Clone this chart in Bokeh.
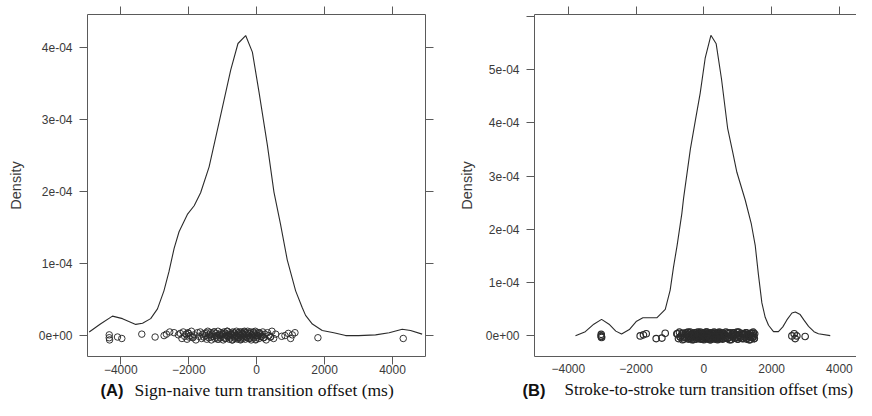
from bokeh.plotting import figure
from bokeh.models import (LinearAxis, FixedTicker, CustomJSTickFormatter, Range1d,
                          ColumnDataSource)
from bokeh.layouts import row, column
from bokeh.core.properties import value
from bokeh.embed import file_html
from bokeh.resources import INLINE

UNIT = 1e-4  # densities below are given in units of 1e-4

# ---------------- data ----------------
x_ticks = [-4000, -2000, 0, 2000, 4000]
a_y_ticks = [0, 1, 2, 3, 4]
b_y_ticks = [0, 1, 2, 3, 4, 5]
b_y_minor = [6]

a_curve_x = [-4930, -4600, -4245, -3950, -3560, -3360, -3120, -2920, -2730, -2580,
             -2430, -2285, -2040, -1840, -1650, -1400, -1110, -765, -550, -324,
             -126, 68, 315, 509, 700, 900, 1147, 1340, 1440, 1640,
             1930, 2270, 2620, 3000, 3500, 3900, 4285, 4530, 4870]
a_curve_y = [0.05, 0.16, 0.27, 0.235, 0.155, 0.17, 0.235, 0.37, 0.62, 0.89,
             1.21, 1.44, 1.68, 1.80, 1.98, 2.34, 2.95, 3.68, 4.05, 4.16,
             3.93, 3.38, 2.64, 1.99, 1.55, 1.05, 0.62, 0.39, 0.28, 0.16,
             0.07, 0.04, 0.0, 0.0, 0.01, 0.04, 0.087, 0.07, 0.02]

b_curve_x = [-3790, -3500, -3250, -3020, -2800, -2600, -2430, -2200, -2000, -1800,
             -1600, -1390, -1140, -995, -897, -790, -650, -600, -400, -250,
             -110, 38, 207, 363, 520, 700, 860, 974, 1220, 1400,
             1515, 1610, 1712, 1810, 1908, 2055, 2200, 2330, 2450, 2600,
             2700, 2843, 2950, 3090, 3250, 3380, 3730]
b_curve_y = [0.005, 0.08, 0.22, 0.31, 0.22, 0.09, 0.035, 0.12, 0.27, 0.34,
             0.34, 0.34, 0.50, 0.86, 1.29, 1.70, 2.30, 2.58, 3.50, 4.05,
             4.55, 5.21, 5.64, 5.48, 4.82, 3.90, 3.42, 3.07, 2.55, 2.10,
             1.70, 1.15, 0.62, 0.35, 0.20, 0.08, 0.08, 0.17, 0.30, 0.43,
             0.45, 0.40, 0.30, 0.18, 0.08, 0.04, 0.005]

# jittered observations (x in ms, vertical jitter in 1e-4 units)
a_obs_x = [-4340, -4340, -4330, -4097, -3970, -3382, -2990, -2726, -2657, -2559,
           -2432, -2304,
           -2250, -2200, -2160, -2120, -2080, -2050, -2020, -1990, -1960, -1920,
           -1880, -1840, -1790, -1740, -1700, -1660, -1620, -1590, -1560, -1530,
           -1500, -1470, -1440, -1410, -1385, -1360, -1335, -1310, -1285, -1260,
           -1235, -1210, -1190, -1165, -1140, -1120, -1095, -1075, -1050, -1030,
           -1010, -985, -965, -945, -925, -905, -885, -865, -845, -825,
           -805, -785, -765, -745, -725, -705, -690, -670, -650, -635,
           -615, -595, -580, -560, -545, -525, -510, -490, -475, -455,
           -440, -420, -405, -385, -370, -350, -335, -315, -300, -280,
           -265, -245, -230, -210, -195, -175, -160, -140, -120, -100,
           -80, -60, -40, -20, 0, 20, 45, 70, 95, 120,
           150, 180, 210, 245, 280, 320, 360, 400, 450, 500,
           -1480, -1350, -1250, -1150, -1060, -990, -930, -870, -810, -760,
           -710, -660, -600, -555, -500, -460, -410, -360, -310, -255,
           -200, -150, -90, -30, 30, 80, 130, 190, -2010, -1900,
           559, 412, 735, 833, 931, 1000, 1049, 1127, 1803, 4315]
a_obs_y = [0.01, -0.03, -0.06, -0.02, -0.04, 0.02, -0.02, 0.00, 0.02, 0.05,
           0.04, 0.01,
           0.03, -0.04, 0.05, -0.01, 0.02, -0.05, 0.04, -0.02, 0.00, 0.06,
           -0.03, 0.01, -0.06, 0.04, -0.01, 0.05, -0.04, 0.02, -0.02, 0.03,
           0.00, -0.05, 0.06, -0.03, 0.01, 0.04, -0.06, 0.02, -0.01, 0.05,
           -0.04, 0.03, -0.02, 0.00, 0.06, -0.05, 0.01, -0.03, 0.04, -0.01,
           0.02, -0.06, 0.05, -0.02, 0.03, -0.04, 0.00, 0.06, -0.01, 0.01,
           -0.05, 0.04, -0.03, 0.02, -0.06, 0.05, 0.00, -0.02, 0.03, -0.04,
           0.01, 0.06, -0.01, -0.05, 0.04, -0.03, 0.02, 0.00, -0.06, 0.05,
           -0.02, 0.03, -0.04, 0.01, 0.05, -0.01, -0.05, 0.04, 0.02, -0.03,
           0.06, 0.00, -0.04, 0.03, -0.02, 0.05, -0.06, 0.01, -0.01, 0.04,
           -0.03, 0.02, 0.06, -0.05, 0.00, -0.02, 0.04, -0.04, 0.03, 0.01,
           -0.01, 0.05, -0.03, 0.02, -0.06, 0.04, 0.00, -0.02, 0.06, -0.04,
           0.04, -0.02, 0.05, -0.05, 0.01, 0.03, -0.04, 0.06, -0.01, 0.02,
           -0.06, 0.04, 0.00, -0.03, 0.05, -0.05, 0.02, 0.06, -0.02, 0.03,
           -0.04, 0.01, 0.05, -0.06, 0.00, 0.04, -0.01, -0.03, 0.03, -0.02,
           0.02, -0.02, -0.01, 0.00, 0.03, -0.04, 0.01, 0.04, -0.03, -0.04]

b_obs_x = [-3030, -3030, -3020, -3025, -1880, -1783, -1703, -1408, -1240, -1142,
           -797,
           -780, -750, -720, -690, -660, -630, -600, -575, -550, -525,
           -500, -480, -460, -440, -420, -400, -380, -360, -345, -330,
           -315, -300, -285, -270, -255, -240, -225, -210, -195, -180,
           -165, -150, -135, -120, -105, -90, -75, -60, -45, -30,
           -15, 0, 15, 30, 45, 60, 75, 90, 105, 120,
           135, 150, 165, 180, 195, 210, 225, 240, 255, 270,
           285, 300, 315, 330, 345, 360, 375, 390, 405, 420,
           440, 460, 480, 500, 520, 540, 560, 580, 600, 625,
           650, 675, 700, 725, 750, 775, 800, 830, 860, 890,
           920, 950, 980, 1010, 1040, 1070, 1100, 1130, 1160, 1190,
           1220, 1250, 1280, 1310, 1340, 1370, 1400, 1430, 1460, 1490,
           1320, 1380, 1450, 1260, 1150, 1000, 870, 700, 560, 430,
           -700, -640, -590, -540, -470, -430, -390, -350, -310, -275,
           -240, -200, -160, -130, -95, -55, -25, 5, 35, 65,
           95, 125, 155, 185, 215, 245, 275, 305, 335, 365,
           395, 425, 455, 490, 530, 570, 610, 660, 710, 760,
           810, 850, 900, 940, 990, 1030, 1080, 1120, 1170, 1210,
           1240, 1290, 1330, 1360, 1410, 1440, 1470, 1500, 1480, 1350,
           2598, 2666, 2695, 2745, 2990]
b_obs_y = [0.03, 0.00, -0.03, -0.01, 0.00, 0.02, 0.04, -0.05, -0.04, 0.05,
           0.04,
           0.04, -0.05, 0.07, -0.02, 0.01, -0.07, 0.05, -0.03, 0.00, 0.06,
           -0.04, 0.02, -0.06, 0.05, -0.01, 0.07, -0.05, 0.03, -0.02, 0.04,
           0.00, -0.07, 0.06, -0.03, 0.01, 0.05, -0.06, 0.02, -0.01, 0.07,
           -0.05, 0.04, -0.02, 0.00, 0.07, -0.06, 0.01, -0.04, 0.05, -0.01,
           0.03, -0.07, 0.06, -0.02, 0.04, -0.05, 0.00, 0.07, -0.01, 0.02,
           -0.06, 0.05, -0.04, 0.03, -0.07, 0.06, 0.00, -0.03, 0.04, -0.05,
           0.01, 0.07, -0.02, -0.06, 0.05, -0.04, 0.03, 0.00, -0.07, 0.06,
           -0.03, 0.04, -0.05, 0.02, 0.06, -0.01, -0.06, 0.05, 0.03, -0.04,
           0.07, 0.00, -0.05, 0.04, -0.03, 0.06, -0.07, 0.02, -0.01, 0.05,
           -0.04, 0.03, 0.07, -0.06, 0.01, -0.03, 0.05, -0.05, 0.04, 0.02,
           -0.02, 0.06, -0.04, 0.03, -0.07, 0.05, 0.00, -0.03, 0.07, -0.05,
           0.02, -0.03, 0.05, -0.06, 0.04, -0.02, 0.06, -0.04, 0.01, 0.03,
           -0.02, 0.05, -0.06, 0.03, 0.07, -0.04, 0.01, -0.07, 0.04, 0.00,
           0.06, -0.03, 0.02, -0.05, 0.05, 0.03, -0.06, 0.01, -0.02, 0.07,
           -0.05, 0.00, 0.04, -0.07, 0.02, 0.06, -0.01, -0.04, 0.05, -0.03,
           0.03, -0.06, 0.07, -0.01, -0.05, 0.04, 0.01, -0.03, 0.06, -0.07,
           0.00, 0.05, -0.04, 0.02, -0.06, 0.07, -0.02, 0.03, -0.05, 0.04,
           0.06, -0.01, 0.02, -0.07, 0.05, -0.03, 0.00, 0.04, -0.05, 0.01,
           0.00, 0.04, -0.05, 0.00, -0.01]

a_caption_tag = "(A)"
a_caption = "Sign-naive turn transition offset (ms)"
b_caption_tag = "(B)"
b_caption = "Stroke-to-stroke turn transition offset (ms)"
y_label = "Density"

# ---------------- styling ----------------
FRAME = "#5a5a5a"
INK = "#2b2b2b"
TICKTXT = "#3a3a3a"

yfmt = CustomJSTickFormatter(code="""
const s = tick.toExponential(0);
const parts = s.split("e");
const sign = parts[1][0];
let d = parts[1].slice(1);
if (d.length < 2) { d = "0" + d; }
return parts[0] + "e" + sign + d;
""")


def style_axis(ax, show_labels, tick_out, standoff):
    ax.axis_line_color = FRAME
    ax.axis_line_width = 1
    ax.major_tick_line_color = FRAME
    ax.major_tick_out = tick_out
    ax.major_tick_in = 0
    ax.minor_tick_line_color = None
    ax.major_label_text_font = "Liberation Sans"
    ax.major_label_text_color = TICKTXT
    if show_labels:
        ax.major_label_text_font_size = "12px"
        ax.major_label_standoff = standoff
    else:
        ax.formatter = CustomJSTickFormatter(code="return '';")
        ax.major_label_text_font_size = "0px"
        ax.major_label_standoff = 0


def make_panel(width, height, mb_left, mb_right, mb_top, mb_bottom, xr, yr, yt, ymin,
               cx, cy, ox, oy, right_axis, bottom_tick_out, bottom_standoff, ylab_standoff,
               pt_width):
    p = figure(width=width, height=height, output_backend="svg", toolbar_location=None,
               x_range=Range1d(*xr), y_range=Range1d(*yr),
               min_border_left=mb_left, min_border_right=mb_right,
               min_border_top=mb_top, min_border_bottom=mb_bottom)
    p.outline_line_color = None
    p.grid.visible = False
    p.background_fill_color = "white"
    p.border_fill_color = "white"

    xb = p.xaxis[0]
    xb.ticker = FixedTicker(ticks=x_ticks)
    style_axis(xb, True, bottom_tick_out, bottom_standoff)

    yl = p.yaxis[0]
    yl.ticker = FixedTicker(ticks=[v * UNIT for v in yt], minor_ticks=[v * UNIT for v in ymin])
    yl.formatter = yfmt
    style_axis(yl, True, 8, 7)
    yl.axis_label = y_label
    yl.axis_label_text_font = "Liberation Sans"
    yl.axis_label_text_font_style = "normal"
    yl.axis_label_text_font_size = "14.5px"
    yl.axis_label_text_color = TICKTXT
    yl.axis_label_standoff = ylab_standoff
    if ymin:
        yl.minor_tick_line_color = FRAME
        yl.minor_tick_out = 8
        yl.minor_tick_in = 0

    top = LinearAxis(ticker=FixedTicker(ticks=x_ticks))
    style_axis(top, False, 8, 0)
    p.add_layout(top, "above")

    if right_axis:
        ra = LinearAxis(ticker=FixedTicker(ticks=[v * UNIT for v in yt]))
        style_axis(ra, False, 8, 0)
        p.add_layout(ra, "right")

    p.line(x=cx, y=[v * UNIT for v in cy], line_color=INK, line_width=1.1)
    src = ColumnDataSource(dict(x=ox, y=[v * UNIT for v in oy]))
    p.scatter(x="x", y="y", source=src, marker="circle", size=6.5,
              fill_color=None, line_color=INK, line_width=pt_width)
    return p


def make_caption(width, height, tag, text, tag_x, text_x, mid_y, size):
    c = figure(width=width, height=height, output_backend="svg", toolbar_location=None,
               x_range=Range1d(0, width), y_range=Range1d(0, height),
               x_axis_type=None, y_axis_type=None, min_border=0)
    c.outline_line_color = None
    c.grid.visible = False
    c.border_fill_color = "white"
    c.text(x=[tag_x], y=[mid_y], text=[tag], text_font=value("Liberation Sans"),
           text_font_style="bold", text_font_size="16.5px", text_color="#111111",
           text_baseline="middle", text_align="left")
    c.text(x=[text_x], y=[mid_y], text=[text], text_font=value("Liberation Serif"),
           text_font_size=size, text_color="#111111",
           text_baseline="middle", text_align="left")
    return c


MAIN_H = 378
CAP_H = 22

pA = make_panel(446, MAIN_H, 87, 21, 13, 22, (-4980, 4970), (-0.29 * UNIT, 4.452 * UNIT),
                a_y_ticks, [], a_curve_x, a_curve_y, a_obs_x, a_obs_y, True, 8, 0, 12, 0.95)
pB = make_panel(410, MAIN_H, 88, 0, 14, 21, (-5000, 4505), (-0.386 * UNIT, 6.03 * UNIT),
                b_y_ticks, b_y_minor, b_curve_x, b_curve_y, b_obs_x, b_obs_y, False, 0, 7, 8,
                1.15)

cA = make_caption(446, CAP_H, a_caption_tag, a_caption, 100, 134, 11, "17.5px")
cB = make_caption(410, CAP_H, b_caption_tag, b_caption, 76, 118, 11, "17px")

layout = column(row(pA, pB), row(cA, cB))
open("out.html", "w").write(file_html(layout, INLINE))
